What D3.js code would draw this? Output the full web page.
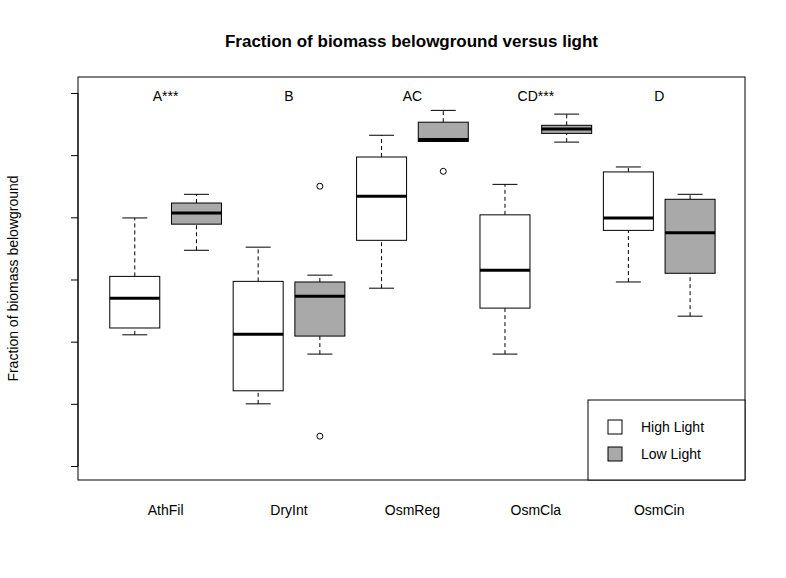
<!DOCTYPE html>
<html><head><meta charset="utf-8">
<script src="https://cdn.jsdelivr.net/npm/d3@7"></script>
<style>body{margin:0;background:#fff}text{font-family:"Liberation Sans",Arial,sans-serif}</style>
</head><body><svg></svg>
<script>
let species = ["AthFil", "DryInt", "OsmReg", "OsmCla", "OsmCin"]
let letters = ["A***", "B", "AC", "CD***", "D"]
let lights = ["High Light", "Low Light"]
let fills = ["#ffffff", "#a9a9a9"]
// [lowWhisker, q1, median, q3, highWhisker], species x light order
let stats = [
  [0.611, 0.622, 0.670, 0.705, 0.799],
  [0.747, 0.789, 0.807, 0.823, 0.837],
  [0.500, 0.521, 0.612, 0.697, 0.752],
  [0.580, 0.609, 0.673, 0.696, 0.707],
  [0.686, 0.763, 0.834, 0.897, 0.932],
  [0.922, 0.922, 0.925, 0.953, 0.972],
  [0.580, 0.654, 0.715, 0.804, 0.853],
  [0.921, 0.935, 0.942, 0.948, 0.966],
  [0.696, 0.779, 0.799, 0.873, 0.881],
  [0.641, 0.710, 0.775, 0.829, 0.837]
]
let outliers = [[], [], [], [0.850, 0.448], [], [0.874], [], [], [], []]
let yTicks = [0.4, 0.5, 0.6, 0.7, 0.8, 0.9, 1.0]

let width = 786, height = 578
let pLeft = 78, pRight = 745, pTop = 77, pBottom = 480

let svg = d3.select('svg').attr('width', width).attr('height', height)

let x = d3.scaleLinear().domain([0.08, 10.89]).range([pLeft, pRight])
let y = d3.scaleLinear().domain([0.3775, 1.0257]).range([pBottom, pTop])
let bw = 25

svg.append('rect').attr('x', pLeft).attr('y', pTop).attr('width', pRight - pLeft).attr('height', pBottom - pTop)
   .attr('fill', 'none').attr('stroke', '#000')

stats.forEach((s, i) => {
  let cx = x(i + 1)
  let g = svg.append('g')
  g.append('line').attr('x1', cx).attr('x2', cx).attr('y1', y(s[3])).attr('y2', y(s[4]))
   .attr('stroke', '#000').attr('stroke-dasharray', '4,3')
  g.append('line').attr('x1', cx).attr('x2', cx).attr('y1', y(s[0])).attr('y2', y(s[1]))
   .attr('stroke', '#000').attr('stroke-dasharray', '4,3')
  g.append('line').attr('x1', cx - bw / 2).attr('x2', cx + bw / 2).attr('y1', y(s[4])).attr('y2', y(s[4])).attr('stroke', '#000')
  g.append('line').attr('x1', cx - bw / 2).attr('x2', cx + bw / 2).attr('y1', y(s[0])).attr('y2', y(s[0])).attr('stroke', '#000')
  g.append('rect').attr('x', cx - bw).attr('y', y(s[3])).attr('width', bw * 2).attr('height', y(s[1]) - y(s[3]))
   .attr('fill', fills[i % 2]).attr('stroke', '#000')
  g.append('line').attr('x1', cx - bw).attr('x2', cx + bw).attr('y1', y(s[2])).attr('y2', y(s[2]))
   .attr('stroke', '#000').attr('stroke-width', 3)
  outliers[i].forEach(o => {
    g.append('circle').attr('cx', cx).attr('cy', y(o)).attr('r', 3).attr('fill', 'none').attr('stroke', '#000')
  })
})

let yAxis = d3.axisLeft(y).tickValues(yTicks).tickFormat(d3.format('.1f')).tickSize(7).tickPadding(4)
let ya = svg.append('g').attr('transform', 'translate(' + pLeft + ',0)').call(yAxis)
ya.select('.domain').attr('d', 'M0,' + y(0.4) + 'V' + y(1.0)).attr('stroke', '#000')
ya.selectAll('line').attr('stroke', '#000')
ya.selectAll('text').attr('font-size', 14).attr('fill', '#000')
  .attr('x', -22).attr('dy', '0.35em').attr('text-anchor', 'middle')
  .attr('transform', d => 'rotate(-90,-22,' + y(d) + ')')

species.forEach((sp, k) => {
  let cx = (x(2 * k + 1) + x(2 * k + 2)) / 2
  svg.append('text').attr('x', cx).attr('y', 515).attr('text-anchor', 'middle').attr('font-size', 14).text(sp)
  svg.append('text').attr('x', cx).attr('y', 101).attr('text-anchor', 'middle').attr('font-size', 14).text(letters[k])
})

svg.append('text').attr('x', (pLeft + pRight) / 2).attr('y', 47).attr('text-anchor', 'middle')
   .attr('font-size', 17).attr('font-weight', 'bold').text('Fraction of biomass belowground versus light')
svg.append('text').attr('transform', 'translate(18,' + ((pTop + pBottom) / 2) + ') rotate(-90)')
   .attr('text-anchor', 'middle').attr('font-size', 14).text('Fraction of biomass belowground')

let lg = svg.append('g')
lg.append('rect').attr('x', 588).attr('y', 400).attr('width', pRight - 588).attr('height', pBottom - 400)
  .attr('fill', '#fff').attr('stroke', '#000')
lights.forEach((l, i) => {
  lg.append('rect').attr('x', 608).attr('y', 420 + i * 27).attr('width', 14).attr('height', 14)
    .attr('fill', fills[i]).attr('stroke', '#000')
  lg.append('text').attr('x', 641).attr('y', 432 + i * 27).attr('font-size', 14).text(l)
})
</script></body></html>
